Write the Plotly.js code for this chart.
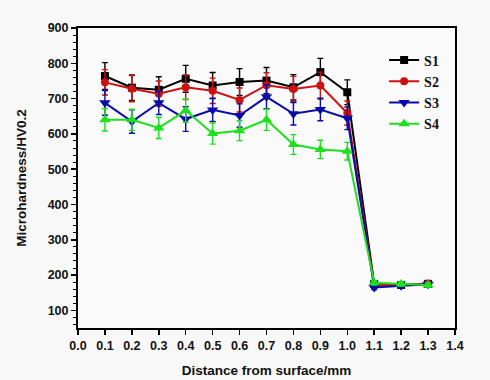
<!DOCTYPE html>
<html>
<head>
<meta charset="utf-8">
<script src="https://cdn.plot.ly/plotly-3.0.1.min.js"></script>
<style>
  html, body { margin: 0; padding: 0; background: #f8f8f8; }
  #chart { width: 490px; height: 380px; }
</style>
</head>
<body>
<div id="chart"></div>
<script>
// Microhardness profile versus depth for four samples
const distance = [0.1, 0.2, 0.3, 0.4, 0.5, 0.6, 0.7, 0.8, 0.9, 1.0, 1.1, 1.2, 1.3];

const s1 = [764, 731, 725, 756, 737, 747, 751, 732, 775, 718, 175, 172, 175];
const s2 = [746, 728, 714, 732, 722, 696, 738, 727, 737, 659, 172, 172, 176];
const s3 = [688, 635, 688, 642, 668, 652, 705, 657, 669, 644, 165, 170, 174];
const s4 = [640, 640, 617, 666, 601, 609, 640, 570, 556, 551, 178, 175, 172];

const s1Err = [38, 36, 37, 38, 37, 38, 37, 36, 39, 35, 6, 6, 6];
const s2Err = [36, 37, 36, 35, 36, 34, 35, 36, 38, 34, 6, 6, 6];
const s3Err = [35, 33, 33, 35, 33, 33, 34, 32, 32, 32, 6, 6, 6];
const s4Err = [32, 30, 30, 33, 30, 28, 30, 28, 26, 25, 6, 6, 6];

const seriesNames = ['S1', 'S2', 'S3', 'S4'];
const seriesValues = [s1, s2, s3, s4];
const seriesErrors = [s1Err, s2Err, s3Err, s4Err];
const seriesColors = ['#000000', '#cc1111', '#0a0aa8', '#1ee01e'];
const seriesSymbols = ['square', 'circle', 'triangle-down', 'triangle-up'];
const markerSizes = [8, 8, 10, 10];

const xTicks = [0.0, 0.1, 0.2, 0.3, 0.4, 0.5, 0.6, 0.7, 0.8, 0.9, 1.0, 1.1, 1.2, 1.3, 1.4];
const yTicks = [100, 200, 300, 400, 500, 600, 700, 800, 900];

const traces = seriesNames.map((name, i) => ({
  type: 'scatter',
  mode: 'lines+markers',
  name: name,
  x: distance,
  y: seriesValues[i],
  error_y: {
    type: 'data',
    array: seriesErrors[i],
    visible: true,
    color: seriesColors[i],
    thickness: 1.4,
    width: 3
  },
  line: { color: seriesColors[i], width: 2 },
  marker: { color: seriesColors[i], symbol: seriesSymbols[i], size: markerSizes[i] }
}));

const tickFont = { family: 'Arial, Liberation Sans, sans-serif', size: 12.5, color: '#111', weight: 'bold' };
const titleFont = { family: 'Arial, Liberation Sans, sans-serif', size: 13.5, color: '#111', weight: 'bold' };

const layout = {
  width: 490,
  height: 380,
  margin: { l: 78, r: 35, t: 28, b: 52 },
  paper_bgcolor: '#f8f8f8',
  plot_bgcolor: '#fafafa',
  showlegend: true,
  legend: {
    x: 0.812, y: 0.945, xanchor: 'left', yanchor: 'top',
    bgcolor: 'rgba(0,0,0,0)',
    font: { family: 'Liberation Serif, Times New Roman, serif', size: 14, color: '#111', weight: 'bold' },
    itemwidth: 30,
    tracegroupgap: 0
  },
  xaxis: {
    range: [0, 1.4],
    tickvals: xTicks,
    ticktext: xTicks.map(v => v.toFixed(1)),
    ticks: 'outside', ticklen: 5, tickwidth: 1.5, tickcolor: '#000',
    showline: true, linewidth: 2, linecolor: '#000', mirror: true,
    showgrid: false, zeroline: false,
    tickfont: tickFont,
    title: { text: 'Distance from surface/mm', font: titleFont, standoff: 14 }
  },
  yaxis: {
    range: [50, 900],
    tickvals: yTicks,
    ticks: 'outside', ticklen: 5, tickwidth: 1.5, tickcolor: '#000',
    minor: { dtick: 20, ticks: 'outside', ticklen: 3, tickwidth: 1, tickcolor: '#000', showgrid: false },
    showline: true, linewidth: 2, linecolor: '#000', mirror: true,
    showgrid: false, zeroline: false,
    tickfont: tickFont,
    title: { text: 'Microhardness/HV0.2', font: titleFont, standoff: 18 }
  }
};

Plotly.newPlot('chart', traces, layout, { displayModeBar: false, staticPlot: true });
</script>
</body>
</html>
